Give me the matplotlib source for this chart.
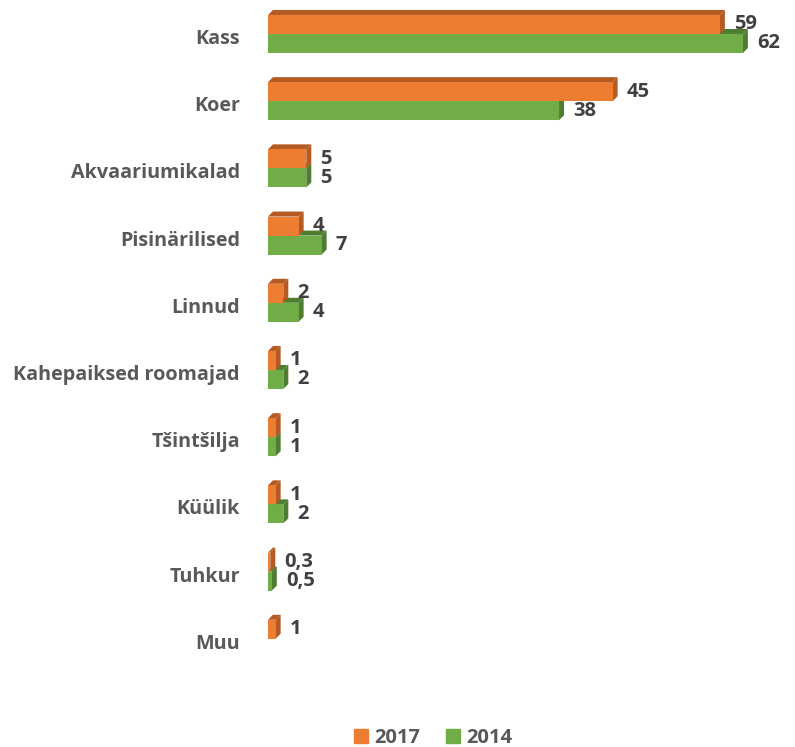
import matplotlib.pyplot as plt
from matplotlib.patches import Polygon, Patch
import numpy as np

plt.rcParams['font.family'] = ['Open Sans', 'DejaVu Sans']

categories = ['Kass', 'Koer', 'Akvaariumikalad', 'Pisinärilised', 'Linnud',
              'Kahepaiksed roomajad', 'Tšintšilja', 'Küülik', 'Tuhkur', 'Muu']
vals_2017 = [59, 45, 5, 4, 2, 1, 1, 1, 0.3, 1]
vals_2014 = [62, 38, 5, 7, 4, 2, 1, 2, 0.5, None]
labels_2017 = ['59', '45', '5', '4', '2', '1', '1', '1', '0,3', '1']
labels_2014 = ['62', '38', '5', '7', '4', '2', '1', '2', '0,5', '']

c17, c17_dark = '#ED7D31', '#B45A22'
c14, c14_dark = '#70AD47', '#4E7D31'

fig = plt.figure(figsize=(7.95, 7.47), dpi=100)
ax = fig.add_axes([0.3371, 0.0999, 0.6455, 0.8996])
ax.set_xlim(0, 67)
ax.set_ylim(9.5, -0.5)
ax.axis('off')

h = 0.283         # bar thickness (category units)
dx = 5 / 7.66     # depth in x (data units ~5px)
dy = 5 / 67.2     # depth in y (category units ~5px)


def bar3d(y_top, w, face, dark):
    y_bot = y_top + h
    ax.add_patch(Polygon([(0, y_top), (w, y_top), (w + dx, y_top - dy), (dx, y_top - dy)],
                         closed=True, fc=dark, ec='none'))
    ax.add_patch(Polygon([(w, y_top), (w, y_bot), (w + dx, y_bot - dy), (w + dx, y_top - dy)],
                         closed=True, fc=dark, ec='none'))
    ax.barh(y_top + h / 2, w, height=h, color=face, edgecolor='none')


y = np.arange(len(categories))
for i in y:
    if vals_2014[i] is not None:
        bar3d(i, vals_2014[i], c14, c14_dark)
    bar3d(i - h, vals_2017[i], c17, c17_dark)

for i in y:
    ax.annotate(labels_2017[i], (vals_2017[i] + dx, i - h / 2), xytext=(9, 0),
                textcoords='offset pixels', ha='left', va='center',
                fontsize=14.5, fontweight='bold', color='#404040')
    if vals_2014[i] is not None:
        ax.annotate(labels_2014[i], (vals_2014[i] + dx, i + h / 2), xytext=(9, 0),
                    textcoords='offset pixels', ha='left', va='center',
                    fontsize=14.5, fontweight='bold', color='#404040')
    ax.annotate(categories[i], (0, i), xytext=(-28, -5), textcoords='offset pixels',
                ha='right', va='center', fontsize=14.2, fontweight='bold',
                color='#595959', annotation_clip=False)

handles = [Patch(color=c17, label='2017'), Patch(color=c14, label='2014')]
leg = fig.legend(handles=handles, loc='center', bbox_to_anchor=(0.545, 0.012),
                 ncol=2, frameon=False, handlelength=0.7, handleheight=0.7,
                 handletextpad=0.3, columnspacing=1.3,
                 prop={'size': 14.5, 'weight': 'bold'})
for t in leg.get_texts():
    t.set_color('#595959')

fig.savefig('out.png', dpi=100)
